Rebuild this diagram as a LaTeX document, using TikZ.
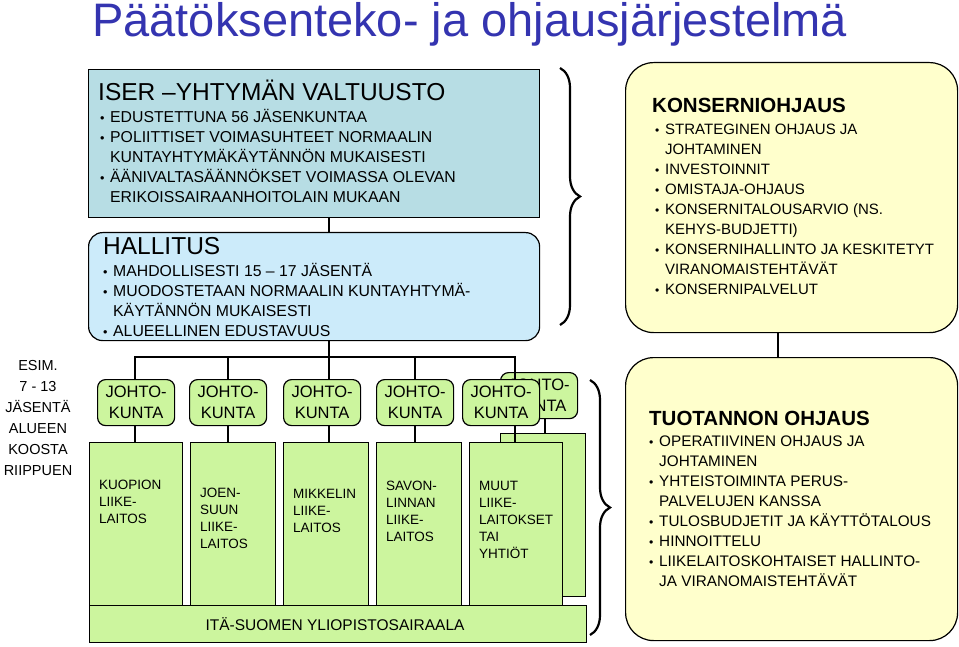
\documentclass[tikz,border=0pt]{standalone}
\usepackage{fontspec}
\setmainfont{Liberation Sans}
\usetikzlibrary{decorations.pathreplacing}
\definecolor{ttl}{HTML}{3434B0}
\definecolor{teal}{HTML}{B7DDE4}
\definecolor{lblue}{HTML}{CCEBFA}
\definecolor{grn}{HTML}{CCF59E}
\definecolor{ylw}{HTML}{FFFFCC}
\newcommand{\bl}{\makebox[10pt][l]{\scalebox{0.8}{•}}}
\newcommand{\ct}{\hspace*{10pt}}
\tikzset{
  box/.style={draw=black, line width=1.2pt},
  gbox/.style={box, fill=grn},
  jbox/.style={box, fill=grn, rounded corners=8pt},
  conn/.style={line width=2.4pt},
  txt/.style={anchor=north west, inner sep=0pt, align=left},
  brc/.style={line width=2.2pt, decorate, decoration={brace, amplitude=20pt}},
}
\begin{document}
\begin{tikzpicture}[x=1pt,y=-1pt]
\useasboundingbox (0,0) rectangle (959,647);
% title
\node[anchor=north west, inner sep=0pt, text=ttl, font=\fontsize{47}{47}\selectfont] (title) at (92,2) {Päätöksenteko- ja ohjausjärjestelmä};
% valtuusto
\node[box, fill=teal, minimum width=451pt, minimum height=148pt, anchor=north west, inner sep=0pt] (valt) at (88,69) {};
\node[txt, font=\fontsize{24.5}{24.5}\selectfont] (valth) at (98,80) {ISER –YHTYMÄN VALTUUSTO};
\node[txt, font=\fontsize{15.8}{20}\selectfont] (valtt) at (100,109) {\bl EDUSTETTUNA 56 JÄSENKUNTAA\\ \bl POLIITTISET VOIMASUHTEET NORMAALIN\\ \ct KUNTAYHTYMÄKÄYTÄNNÖN MUKAISESTI\\ \bl ÄÄNIVALTASÄÄNNÖKSET VOIMASSA OLEVAN\\ \ct ERIKOISSAIRAANHOITOLAIN MUKAAN};
% hallitus
\node[box, fill=lblue, rounded corners=14pt, minimum width=451pt, minimum height=108pt, anchor=north west, inner sep=0pt] (hall) at (88,232) {};
\node[txt, font=\fontsize{24.5}{24.5}\selectfont] (hallh) at (103,237) {HALLITUS};
\node[txt, font=\fontsize{15.8}{20}\selectfont] (hallt) at (103,263) {\bl MAHDOLLISESTI 15 – 17 JÄSENTÄ\\ \bl MUODOSTETAAN NORMAALIN KUNTAYHTYMÄ-\\ \ct KÄYTÄNNÖN MUKAISESTI\\ \bl ALUEELLINEN EDUSTAVUUS};
\draw[conn] (valt.south -| 329,0) -- (hall.north -| 329,0);
% brace top
\coordinate (b1) at (560,68);
\coordinate (b2) at (560,325);
\draw[brc] (b1) -- (b2);
% konserni
\node[box, fill=ylw, rounded corners=28pt, minimum width=332pt, minimum height=270pt, anchor=north west, inner sep=0pt] (kons) at (625,62) {};
\node[txt, font=\fontsize{20.5}{20.5}\selectfont\bfseries] (konsh) at (652,98) {KONSERNIOHJAUS};
\node[txt, font=\fontsize{15}{20}\selectfont] (konst) at (655,124) {\bl STRATEGINEN OHJAUS JA\\ \ct JOHTAMINEN\\ \bl INVESTOINNIT\\ \bl OMISTAJA-OHJAUS\\ \bl KONSERNITALOUSARVIO (NS.\\ \ct KEHYS-BUDJETTI)\\ \bl KONSERNIHALLINTO JA KESKITETYT\\ \ct VIRANOMAISTEHTÄVÄT\\ \bl KONSERNIPALVELUT};
% tuotanto
\node[box, fill=ylw, rounded corners=28pt, minimum width=332pt, minimum height=283pt, anchor=north west, inner sep=0pt] (tuot) at (625,357) {};
\draw[conn] (kons.south -| 778,0) -- (tuot.north -| 778,0);
\node[txt, font=\fontsize{20.5}{20.5}\selectfont\bfseries] (tuoth) at (649,411) {TUOTANNON OHJAUS};
\node[txt, font=\fontsize{15.3}{20}\selectfont] (tuott) at (649,436) {\bl OPERATIIVINEN OHJAUS JA\\ \ct JOHTAMINEN\\ \bl YHTEISTOIMINTA PERUS-\\ \ct PALVELUJEN KANSSA\\ \bl TULOSBUDJETIT JA KÄYTTÖTALOUS\\ \bl HINNOITTELU\\ \bl LIIKELAITOSKOHTAISET HALLINTO-\\ \ct JA VIRANOMAISTEHTÄVÄT};
% left text
\node[anchor=north, inner sep=0pt, align=center, font=\fontsize{14.5}{21}\selectfont] (esim) at (38,360) {ESIM.\\7 - 13\\JÄSENTÄ\\ALUEEN\\KOOSTA\\RIIPPUEN};
% back boxes
\node[gbox, minimum width=85pt, minimum height=163pt, anchor=north west, inner sep=0pt] (lb) at (500,433) {};
\node[jbox, minimum width=77pt, minimum height=46pt, anchor=north west, inner sep=0pt, font=\fontsize{16.5}{21}\selectfont, align=center] (jb) at (500,372) {JOHTO-\\KUNTA};
\draw[conn] (jb.south -| 545,0) -- (lb.north -| 545,0);
% bus
\coordinate (bus) at (329,357);
\draw[conn] (hall.south -| 329,0) -- (bus);
\foreach \i/\jx/\lx/\lw/\cx/\t/\ty in {
 1/97/89/93/135/{KUOPION\\LIIKE-\\LAITOS}/480,
 2/189/190/85/228/{JOEN-\\SUUN\\LIIKE-\\LAITOS}/488,
 3/283/283/85/329/{MIKKELIN\\LIIKE-\\LAITOS}/489,
 4/376/376/85/415/{SAVON-\\LINNAN\\LIIKE-\\LAITOS}/481,
 5/462/469/93/515/{MUUT\\LIIKE-\\LAITOKSET\\TAI\\YHTIÖT}/481}{
  \node[gbox, minimum width=\lw pt, minimum height=170pt, anchor=north west, inner sep=0pt] (l\i) at (\lx,442) {};
  \node[jbox, minimum width=77pt, minimum height=46pt, anchor=north west, inner sep=0pt, font=\fontsize{16.5}{21}\selectfont, align=center] (j\i) at (\jx,379) {JOHTO-\\KUNTA};
  \draw[conn] (j\i.south -| \cx,0) -- (l\i.north -| \cx,0);
  \node[txt, font=\fontsize{13.5}{17}\selectfont] (t\i) at (\lx+10,\ty) {\t};
}
\draw[conn] (135,380) |- (515,357) -- (515,380);
\foreach \cx in {228,329,415}{\draw[conn] (\cx,357) -- (\cx,380);}
% bar
\node[gbox, minimum width=497pt, minimum height=37pt, anchor=north west, inner sep=0pt] (bar) at (89,605) {};
\node[font=\fontsize{15.5}{15.5}\selectfont, inner sep=0pt] (bart) at (335,624) {ITÄ-SUOMEN YLIOPISTOSAIRAALA};
\coordinate (c1) at (590,380);
\coordinate (c2) at (590,635);
\draw[brc] (c1) -- (c2);
\end{tikzpicture}
\end{document}
